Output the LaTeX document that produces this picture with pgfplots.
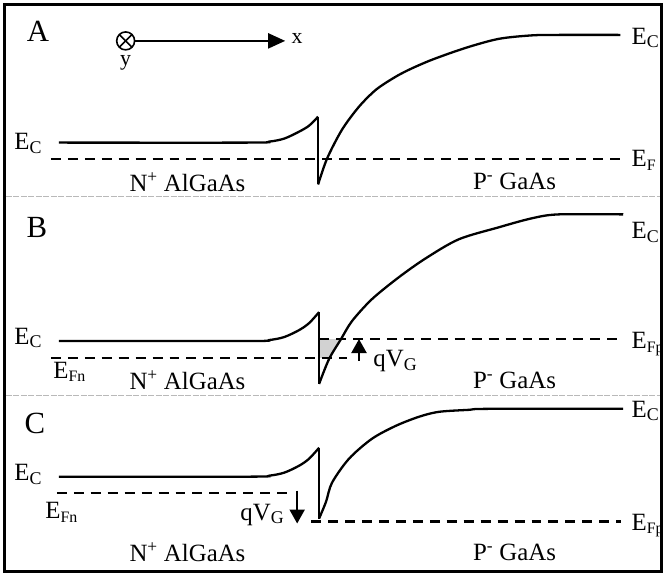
\documentclass[border=0pt]{standalone}
\usepackage{fontspec}
\setmainfont{Liberation Serif}
\usepackage{pgfplots}
\pgfplotsset{compat=1.18}
\usetikzlibrary{arrows.meta}
\newcommand{\lab}{\fontsize{25}{27}\selectfont}
\newcommand{\panelfont}{\fontsize{31}{33}\selectfont}
\newcommand{\axfont}{\fontsize{22}{24}\selectfont}
\newcommand{\sub}[1]{\raisebox{-0.32ex}{\fontsize{18}{18}\selectfont #1}}
\newcommand{\subs}[1]{\raisebox{-0.32ex}{\fontsize{16}{16}\selectfont #1}}
\begin{document}
\begin{tikzpicture}
\begin{axis}[
  scale only axis, width=667bp, height=576bp,
  xmin=0, xmax=667, ymin=0, ymax=576, y dir=reverse,
  hide axis, clip=false,
  band/.style={line width=2.3bp, black, smooth, no markers},
  fermi/.style={line width=2.1bp, black, dash pattern=on 10bp off 7bp, no markers},
]
\path (axis cs:0,0) rectangle (axis cs:667,576);
% frame and dividers
\draw[line width=3bp] (axis cs:5,5) rectangle (axis cs:663,573);
\draw[line width=0.8bp, gray!55, dash pattern=on 6bp off 1.5bp] (axis cs:6,197) -- (axis cs:662,197);
\draw[line width=0.8bp, gray!55, dash pattern=on 6bp off 1.5bp] (axis cs:6,397) -- (axis cs:662,397);

% ---------- Panel A ----------
\addplot[band] coordinates {(59,143) (250,143) (270,142) (285,139) (300,132) (310,126) (319,117)};
\addplot[line width=2.3bp, black, no markers] coordinates {(319,117) (319,185)};
\addplot[band] coordinates {(319,185) (328,159) (343,130) (360,107) (377,90) (395,78) (410,70) (433,60) (467,48) (500,39) (533,35.5) (560,35) (622,35)};
\addplot[fermi] coordinates {(51,159) (622,159)};

% ---------- Panel B ----------
\addplot[fill=gray!35, draw=none, line width=0pt] coordinates {(320,340) (342,340) (336,350) (330,359) (320,359)} -- cycle;
\addplot[band] coordinates {(59,342) (250,342) (270,341) (285,338) (300,331) (310,324) (320,313)};
\addplot[line width=2.3bp, black, no markers] coordinates {(320,313) (320,385)};
\addplot[band] coordinates {(320,385) (330,360) (342,340) (353,322) (373,300) (400,278) (427,259) (460,240) (500,228) (533,219) (560,215) (625,215)};
\addplot[fermi] coordinates {(51,359) (348,359)};
\addplot[fermi] coordinates {(320,340) (622,340)};
\addplot[line width=2.3bp, black, no markers, -{Triangle[length=14bp,width=15bp]}] coordinates {(360,362) (360,340)};

% ---------- Panel C ----------
\addplot[band] coordinates {(59,478) (250,478) (270,477) (285,474) (300,467) (310,460) (320,449)};
\addplot[line width=2.3bp, black, no markers] coordinates {(320,449) (320,520)};
\addplot[band] coordinates {(320,520) (327,503) (333,484) (350,460) (373,440) (397,427) (420,418) (440,413) (470,411) (490,410) (625,410)};
\addplot[fermi] coordinates {(57,494) (290,494)};
\addplot[fermi] coordinates {(312,523) (623,523)};
\addplot[line width=2.3bp, black, no markers, -{Triangle[length=14bp,width=15bp]}] coordinates {(298,492) (298,525)};

% ---------- Axis symbol ----------
\draw[line width=1.6bp] (axis cs:126,41) circle[radius=9bp];
\draw[line width=1.6bp] (axis cs:119.6,34.6) -- (axis cs:132.4,47.4);
\draw[line width=1.6bp] (axis cs:119.6,47.4) -- (axis cs:132.4,34.6);
\draw[line width=2bp, -{Triangle[length=17bp,width=15bp]}] (axis cs:135,41) -- (axis cs:286,41);
\node[font=\axfont] at (axis cs:298,39) {x};
\node[font=\axfont] at (axis cs:126,63) {y};

% ---------- Labels ----------
\node[font=\panelfont] at (axis cs:38,31) {A};
\node[font=\panelfont] at (axis cs:37,228) {B};
\node[font=\panelfont] at (axis cs:35,425) {C};

\node[font=\lab, anchor=west] at (axis cs:11,144) {E\sub{C}};
\node[font=\lab, anchor=west] at (axis cs:630,38) {E\sub{C}};
\node[font=\lab, anchor=west] at (axis cs:630,161) {E\subs{F}};
\node[font=\lab] at (axis cs:188,183) {N\textsuperscript{+} AlGaAs};
\node[font=\lab] at (axis cs:516,182) {P\textsuperscript{-} GaAs};

\node[font=\lab, anchor=west] at (axis cs:11,339) {E\sub{C}};
\node[font=\lab, anchor=west] at (axis cs:630,233) {E\sub{C}};
\node[font=\lab, anchor=west] at (axis cs:630,345) {E\subs{Fp}};
\node[font=\lab, anchor=west] at (axis cs:50,373) {E\subs{Fn}};
\node[font=\lab, anchor=west] at (axis cs:371,362) {qV\sub{G}};
\node[font=\lab] at (axis cs:188,381) {N\textsuperscript{+} AlGaAs};
\node[font=\lab] at (axis cs:516,381) {P\textsuperscript{-} GaAs};

\node[font=\lab, anchor=west] at (axis cs:11,476) {E\sub{C}};
\node[font=\lab, anchor=west] at (axis cs:630,412) {E\sub{C}};
\node[font=\lab, anchor=west] at (axis cs:630,527) {E\subs{Fp}};
\node[font=\lab, anchor=west] at (axis cs:42,514) {E\subs{Fn}};
\node[font=\lab, anchor=east] at (axis cs:288,516) {qV\sub{G}};
\node[font=\lab] at (axis cs:188,554) {N\textsuperscript{+} AlGaAs};
\node[font=\lab] at (axis cs:516,554) {P\textsuperscript{-} GaAs};
\end{axis}
\end{tikzpicture}
\end{document}
